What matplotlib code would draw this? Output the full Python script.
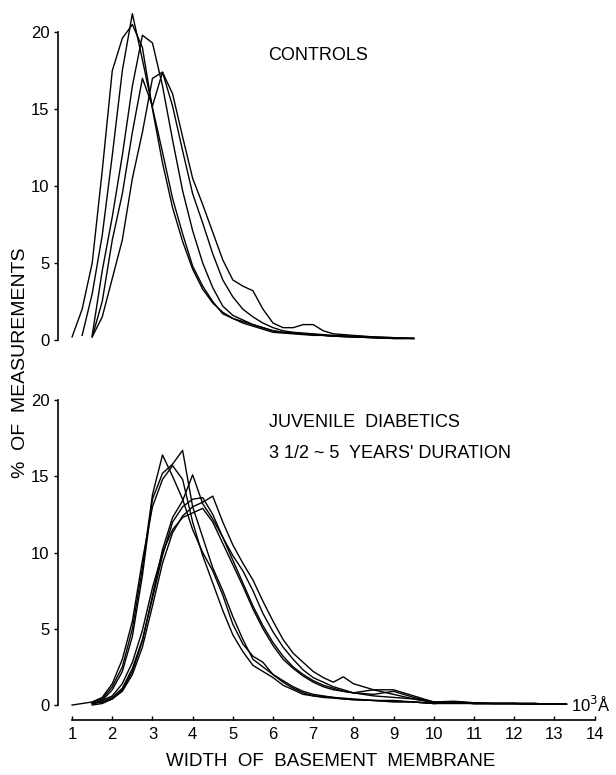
import numpy as np
import matplotlib
matplotlib.use("Agg")
import matplotlib.pyplot as plt

plt.rcParams['font.family'] = ['Liberation Sans', 'DejaVu Sans']

nan = np.nan

# controls: width (10^3 A) vs % of measurements, one list per subject
x_top = [1.0, 1.25, 1.5, 1.75, 2.0, 2.25, 2.5, 2.75, 3.0, 3.25, 3.5, 3.75, 4.0, 4.25,
         4.5, 4.75, 5.0, 5.25, 5.5, 5.75, 6.0, 6.25, 6.5, 6.75, 7.0, 7.25, 7.5, 8.0,
         8.5, 9.0, 9.5]
ctrl_a = [nan, 0.3, 3.0, 6.8, 12.0, 17.5, 21.2, 18.2, 15.1, 12.2, 9.2, 6.9, 4.8, 3.5,
          2.5, 1.7, 1.4, 1.1, 0.9, 0.7, 0.5, 0.45, 0.4, 0.35, 0.3, 0.3, 0.25, 0.2,
          0.15, 0.1, 0.1]
ctrl_b = [0.2, 2.0, 5.0, 11.0, 17.5, 19.6, 20.5, 19.0, 15.0, 11.5, 8.6, 6.4, 4.6, 3.3,
          2.4, 1.8, 1.4, 1.2, 1.0, 0.8, 0.6, 0.5, 0.45, 0.4, 0.35, 0.3, 0.25, 0.2,
          0.15, 0.1, 0.1]
ctrl_c = [nan, nan, 0.3, 4.5, 8.0, 12.0, 16.5, 19.8, 19.3, 16.5, 13.0, 9.7, 7.1, 5.0,
          3.4, 2.2, 1.6, 1.3, 1.0, 0.8, 0.6, 0.5, 0.45, 0.4, 0.35, 0.3, 0.25, 0.2,
          0.15, 0.1, 0.1]
ctrl_d = [nan, nan, 0.2, 2.5, 6.5, 9.5, 13.5, 17.0, 15.2, 17.4, 15.2, 12.3, 9.5, 7.6,
          5.6, 3.9, 2.8, 2.0, 1.5, 1.1, 0.8, 0.6, 0.5, 0.45, 0.4, 0.35, 0.3, 0.25,
          0.2, 0.15, 0.1]
ctrl_e = [nan, nan, 0.2, 1.5, 4.0, 6.5, 10.5, 13.5, 17.0, 17.4, 16.0, 13.2, 10.5, 8.8,
          7.0, 5.2, 3.9, 3.5, 3.2, 2.0, 1.1, 0.8, 0.8, 1.0, 1.0, 0.6, 0.4, 0.3,
          0.2, 0.15, 0.1]

# juvenile diabetics
x_bot = [1.0, 1.5, 1.75, 2.0, 2.25, 2.5, 2.75, 3.0, 3.25, 3.5, 3.75, 4.0, 4.25, 4.5,
         4.75, 5.0, 5.25, 5.5, 5.75, 6.0, 6.25, 6.5, 6.75, 7.0, 7.25, 7.5, 7.75, 8.0,
         8.5, 9.0, 9.5, 10.0, 10.5, 11.0, 11.5, 12.0, 12.5, 13.0, 13.3]
diab_1 = [0.0, 0.2, 0.4, 1.2, 2.5, 5.0, 9.0, 13.8, 16.4, 15.0, 13.5, 11.5, 10.0, 8.8,
          7.2, 5.3, 4.0, 3.2, 2.8, 2.0, 1.6, 1.2, 0.9, 0.7, 0.6, 0.5, 0.45, 0.4,
          0.3, 0.3, 0.2, 0.1, 0.2, 0.1, 0.1, 0.1, 0.1, 0.05, 0.05]
diab_2 = [nan, 0.1, 0.3, 1.0, 2.2, 4.5, 8.5, 13.5, 15.2, 15.8, 16.7, 13.0, 11.0, 9.0,
          7.5, 5.8, 4.3, 3.0, 2.5, 2.0, 1.5, 1.1, 0.8, 0.6, 0.55, 0.5, 0.4, 0.35,
          0.3, 0.2, 0.2, 0.1, 0.15, 0.1, 0.1, 0.1, 0.1, 0.05, 0.05]
diab_3 = [nan, 0.2, 0.5, 1.4, 3.0, 5.5, 9.5, 13.0, 14.8, 15.7, 14.8, 12.0, 9.8, 8.0,
          6.2, 4.6, 3.5, 2.6, 2.2, 1.8, 1.3, 1.0, 0.7, 0.6, 0.5, 0.45, 0.4, 0.35,
          0.3, 0.25, 0.2, 0.1, 0.1, 0.1, 0.1, 0.1, 0.05, 0.05, 0.05]
diab_4 = [nan, 0.0, 0.1, 0.4, 1.0, 2.2, 4.2, 7.2, 10.2, 12.3, 13.4, 15.1, 13.2, 12.2,
          11.0, 9.8, 8.8, 7.5, 6.0, 4.8, 3.8, 3.0, 2.3, 1.8, 1.5, 1.2, 1.0, 0.8,
          0.6, 0.5, 0.4, 0.2, 0.2, 0.15, 0.1, 0.1, 0.1, 0.05, 0.05]
diab_5 = [nan, 0.1, 0.2, 0.4, 0.9, 2.0, 3.8, 6.5, 9.3, 11.3, 12.4, 13.0, 13.3, 13.7,
          12.0, 10.5, 9.3, 8.2, 6.8, 5.5, 4.3, 3.4, 2.8, 2.2, 1.8, 1.5, 1.85, 1.4,
          1.0, 1.0, 0.6, 0.2, 0.25, 0.15, 0.1, 0.1, 0.1, 0.05, 0.05]
diab_6 = [nan, 0.1, 0.2, 0.5, 1.1, 2.4, 4.3, 7.0, 9.8, 12.0, 13.0, 13.5, 13.6, 12.5,
          11.0, 9.5, 8.0, 6.5, 5.2, 4.1, 3.2, 2.5, 2.0, 1.6, 1.3, 1.1, 0.9, 0.8,
          1.0, 0.7, 0.4, 0.15, 0.2, 0.1, 0.1, 0.1, 0.05, 0.05, 0.05]
diab_7 = [nan, 0.1, 0.3, 0.6, 1.4, 2.8, 4.9, 7.7, 10.0, 11.5, 12.3, 12.6, 12.9, 12.0,
          10.6, 9.2, 7.8, 6.3, 5.0, 3.9, 3.0, 2.4, 1.9, 1.5, 1.2, 1.0, 0.9, 0.8,
          0.7, 0.9, 0.5, 0.2, 0.2, 0.1, 0.1, 0.1, 0.05, 0.05, 0.05]

y_ticks = [0, 5, 10, 15, 20]
x_ticks = list(range(1, 15))

fig = plt.figure(figsize=(6.16, 7.75), dpi=100)
ax1 = fig.add_axes([0.0942, 0.5613, 0.884, 0.427])
ax2 = fig.add_axes([0.0942, 0.0706, 0.884, 0.423])

for ys in [ctrl_a, ctrl_b, ctrl_c, ctrl_d, ctrl_e]:
    ax1.plot(x_top, ys, color='black', lw=1.0)
for ys in [diab_1, diab_2, diab_3, diab_4, diab_5, diab_6, diab_7]:
    ax2.plot(x_bot, ys, color='black', lw=1.0)

for ax in (ax1, ax2):
    ax.set_xlim(0.65, 14.2)
    ax.spines['top'].set_visible(False)
    ax.spines['right'].set_visible(False)
    ax.spines['left'].set_bounds(0, 20)
    ax.spines['left'].set_linewidth(1.2)
    ax.set_yticks(y_ticks)
    ax.tick_params(axis='y', direction='out', length=3, width=1, pad=3, labelsize=12)

ax1.set_ylim(0, 21.5)
ax1.spines['bottom'].set_visible(False)
ax1.set_xticks([])

ax2.set_ylim(-1.0, 20.5)
ax2.spines['bottom'].set_bounds(1, 14)
ax2.spines['bottom'].set_linewidth(1.2)
ax2.set_xticks(x_ticks)
ax2.tick_params(axis='x', direction='in', length=3, width=1, pad=5, labelsize=12)

ax1.text(5.88, 18.5, "CONTROLS", fontsize=13, va='center')
ax2.text(5.9, 18.56, "JUVENILE  DIABETICS", fontsize=13, va='center')
ax2.text(5.9, 16.5, "3 1/2 ~ 5  YEARS' DURATION", fontsize=13, va='center')
ax2.text(13.42, 0.0, "10$^3$Å", fontsize=12, va='center')

ax2.set_xlabel("WIDTH  OF  BASEMENT  MEMBRANE", fontsize=13.5, labelpad=8)
fig.text(0.033, 0.532, "%  OF  MEASUREMENTS", fontsize=14, rotation=90,
         ha='center', va='center')

plt.savefig("out.png", dpi=100)
